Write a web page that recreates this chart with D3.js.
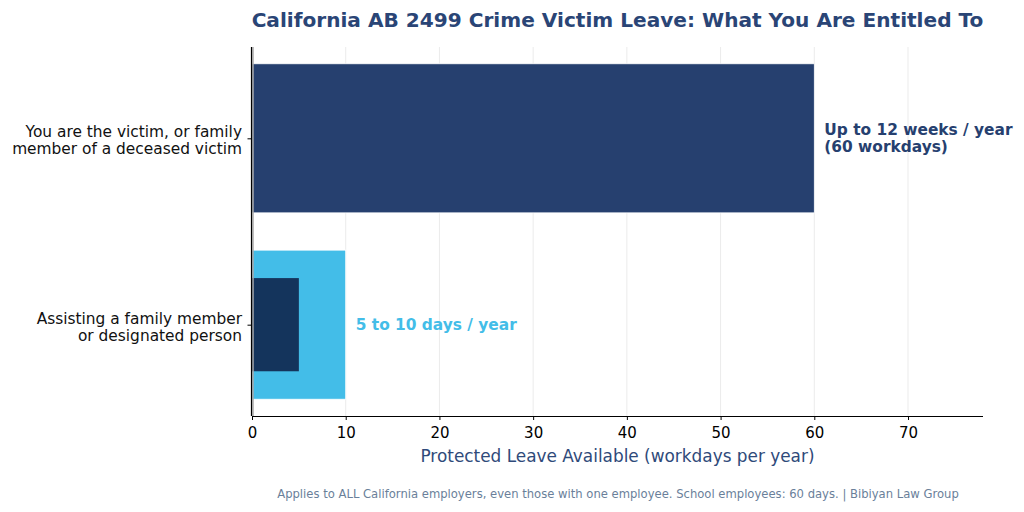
<!DOCTYPE html>
<html>
<head>
<meta charset="utf-8">
<script src="https://cdn.jsdelivr.net/npm/d3@7"></script>
<style>
  body { margin: 0; background: #fff; }
  svg { font-family: "DejaVu Sans", sans-serif; }
</style>
</head>
<body>
<svg id="chart" width="1024" height="512"></svg>
<script>
// data
var categories = ["You are the victim, or family\nmember of a deceased victim",
                  "Assisting a family member\nor designated person"];
var maxDays = [60, 10];
var minDays = [null, 5];
var barLabels = ["Up to 12 weeks / year\n(60 workdays)", "5 to 10 days / year"];
var xTicks = [0, 10, 20, 30, 40, 50, 60, 70];

var svg = d3.select("#chart");
var plotL = 252, plotR = 983, plotT = 47, plotB = 416;

var x = d3.scaleLinear().domain([0, 78]).range([plotL, plotR]);
// category index -> pixel (first at top)
var y = d3.scaleLinear().domain([-0.49, 1.49]).range([plotT, plotB]);
var unit = y(1) - y(0);

var barColors = ["#26406f", "#43bde8"];
var labelColors = ["#26406f", "#43bde8"];

// grid
svg.append("g").selectAll("line").data(xTicks).enter().append("line")
  .attr("x1", d => x(d)).attr("x2", d => x(d))
  .attr("y1", plotT).attr("y2", plotB)
  .style("stroke", "#ebebeb").style("stroke-width", 1);

// bars
svg.append("g").selectAll("rect").data(maxDays).enter().append("rect")
  .attr("x", x(0))
  .attr("y", (d, i) => y(i) - unit * 0.4)
  .attr("width", d => x(d) - x(0))
  .attr("height", unit * 0.8)
  .style("fill", (d, i) => barColors[i])
  .style("stroke", "#fff").style("stroke-width", 0.8);

// inner minimum bar
svg.append("g").selectAll("rect").data(minDays.map((d, i) => ({v: d, i: i})).filter(d => d.v != null))
  .enter().append("rect")
  .attr("x", x(0))
  .attr("y", d => y(d.i) - unit * 0.25)
  .attr("width", d => x(d.v) - x(0))
  .attr("height", unit * 0.5)
  .style("fill", "#14345c");

// zero line
svg.append("line")
  .attr("x1", x(0) + 1).attr("x2", x(0) + 1)
  .attr("y1", plotT).attr("y2", plotB)
  .style("stroke", "#aaaaaa").style("stroke-width", 1.5);

// value labels
barLabels.forEach(function(t, i) {
  var lines = t.split("\n");
  var txt = svg.append("text")
    .attr("x", x(maxDays[i]) + 10)
    .attr("y", y(i))
    .style("font-size", "15.4px").style("font-weight", "bold")
    .style("fill", labelColors[i]);
  lines.forEach(function(l, j) {
    txt.append("tspan").attr("x", x(maxDays[i]) + 10)
      .attr("dy", j === 0 ? ((-(lines.length - 1) / 2) * 1.1 + 0.35) + "em" : "1.1em")
      .text(l);
  });
});

// axes
var xAxis = d3.axisBottom(x).tickValues(xTicks).tickSize(4).tickPadding(7);
var gx = svg.append("g").attr("transform", "translate(0," + plotB + ")").call(xAxis);
gx.select(".domain").attr("d", "M" + plotL + ",0.5H" + plotR).style("stroke", "#000").style("stroke-width", 1.2);
gx.selectAll("text").style("font-size", "15px").style("fill", "#000").style("font-family", "DejaVu Sans");
gx.selectAll(".tick line").style("stroke", "#000");

var yAxis = d3.axisLeft(y).tickValues([0, 1]).tickSize(4).tickFormat("");
var gy = svg.append("g").attr("transform", "translate(" + (plotL - 0.5) + ",0)").call(yAxis);
gy.select(".domain").attr("d", "M0," + plotT + "V" + plotB).style("stroke", "#000").style("stroke-width", 1.2);
gy.selectAll(".tick line").style("stroke", "#000");

categories.forEach(function(c, i) {
  var lines = c.split("\n");
  var txt = svg.append("text")
    .attr("text-anchor", "end")
    .attr("y", y(i) + 2)
    .style("font-size", "15.4px").style("fill", "#111");
  lines.forEach(function(l, j) {
    txt.append("tspan").attr("x", plotL - 10)
      .attr("dy", j === 0 ? ((-(lines.length - 1) / 2) * 1.1 + 0.35) + "em" : "1.1em")
      .text(l);
  });
});

// axis title
svg.append("text")
  .attr("x", (plotL + plotR) / 2).attr("y", 462)
  .attr("text-anchor", "middle")
  .style("font-size", "16.9px").style("fill", "#2f4a7a")
  .text("Protected Leave Available (workdays per year)");

// title
svg.append("text")
  .attr("x", (plotL + plotR) / 2).attr("y", 27)
  .attr("text-anchor", "middle")
  .style("font-size", "20.1px").style("font-weight", "bold").style("fill", "#2a4576")
  .text("California AB 2499 Crime Victim Leave: What You Are Entitled To");

// footer
svg.append("text")
  .attr("x", 618).attr("y", 498)
  .attr("text-anchor", "middle")
  .style("font-size", "11.6px").style("fill", "#6a7f9a")
  .text("Applies to ALL California employers, even those with one employee. School employees: 60 days. | Bibiyan Law Group");
</script>
</body>
</html>
